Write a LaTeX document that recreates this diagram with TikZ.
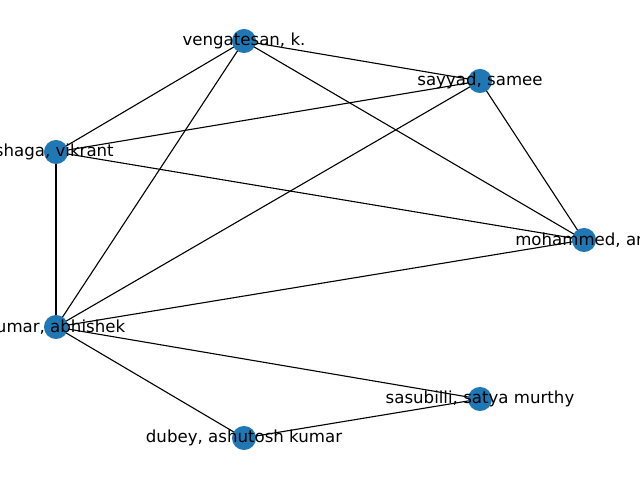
\documentclass[tikz,border=0pt]{standalone}
\usepackage{fontspec}
\setmainfont{DejaVu Sans}
\definecolor{tabblue}{HTML}{1F77B4}
\begin{document}
\begin{tikzpicture}[x=0.01in,y=-0.01in,
  vert/.style={circle,minimum size=24.1,inner sep=0pt,draw=none},
  lbl/.style={font=\fontsize{12pt}{14pt}\selectfont,inner sep=0pt,text=black},
  edge/.style={draw=black,line width=0.8pt}]
\useasboundingbox (0,0) rectangle (640,480);
\clip (0,0) rectangle (640,480);
\node[vert] (v) at (244,41) {};
\node[vert] (s) at (480,81) {};
\node[vert] (b) at (56,152) {};
\node[vert] (m) at (584,240) {};
\node[vert] (k) at (56,327) {};
\node[vert] (sa) at (480,399) {};
\node[vert] (d) at (244,438) {};
\path[edge] (v.center) -- (s.center);
\path[edge] (v.center) -- (b.center);
\path[edge] (v.center) -- (m.center);
\path[edge] (v.center) -- (k.center);
\path[edge] (s.center) -- (b.center);
\path[edge] (s.center) -- (m.center);
\path[edge] (s.center) -- (k.center);
\path[edge] (b.center) -- (m.center);
\path[edge] (b.center) -- (k.center);
\path[edge] (m.center) -- (k.center);
\path[edge] (k.center) -- (sa.center);
\path[edge] (k.center) -- (d.center);
\path[edge] (d.center) -- (sa.center);
\foreach \n in {v,s,b,m,k,sa,d} {\fill[tabblue] (\n) circle (12.05);}
\node[lbl] (lv) at (v) {vengatesan, k.};
\node[lbl] (ls) at (s) {sayyad, samee};
\node[lbl,anchor=east] (lb) at (114,152) {shaga, vikrant};
\node[lbl,anchor=west] (lm) at (515,240) {mohammed, an};
\node[lbl] (lk) at (k) {kumar, abhishek};
\node[lbl] (lsa) at (sa) {sasubilli, satya murthy};
\node[lbl] (ld) at (d) {dubey, ashutosh kumar};
\end{tikzpicture}
\end{document}
